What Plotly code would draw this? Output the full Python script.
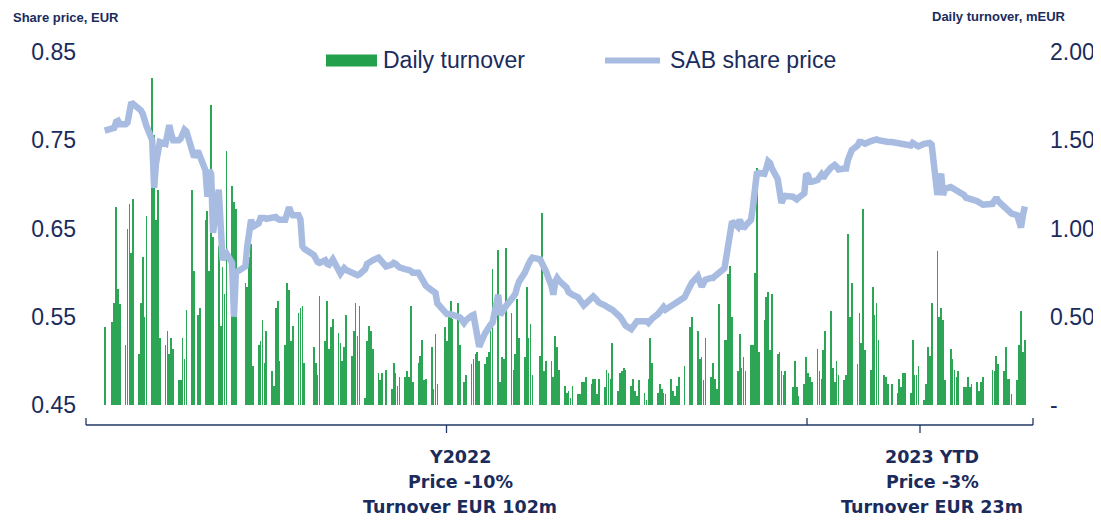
import pandas as pd
import plotly.graph_objects as go

# ---------------- data ----------------
# trading days: Mon..Fri from 2021-12-30 to 2023-04-28, None = no trading
turnover_mEUR = [
    0.44, None,
    0.47, 0.58, 1.12, 0.66, 0.57,
    0.34, 1.00, 1.14, 0.86, 1.17,
    0.29, 0.58, 0.84, 0.50, 1.07,
    1.85, 1.53, 1.05, 1.22, 0.38,
    0.34, 0.42, 0.29, 0.38, 0.32,
    0.14, 0.14, 0.38, 0.26, 0.54,
    1.22, 0.76, None, 0.51, 0.55,
    1.05, 1.10, 0.76, 1.70, 0.95,
    0.90, 0.45, 0.78, 0.63, 1.44,
    1.24, 1.15, 1.11, None, None,
    0.69, 0.67, 0.84, 0.91, 0.22,
    0.34, 0.36, 0.48, 0.24, 0.42,
    0.19, 0.11, 0.55, 0.59, 0.25,
    0.34, 0.69, 0.65, 0.36, 0.45,
    0.52, 0.55, 0.56, 0.24, None,
    None, 0.33, 0.24, 0.17, 0.62,
    0.36, 0.59, 0.32, 0.44, 0.49,
    0.41, 0.35, 0.25, 0.33, 0.51,
    0.28, 0.42, 0.58, 0.39, 0.56,
    0.04, 0.36, 0.45, 0.42, 0.32,
    0.18, 0.14, 0.18, None, 0.20,
    0.09, 0.24, 0.18, 0.11, 0.16,
    0.16, 0.19, 0.16, 0.56, 0.13,
    0.24, 0.28, 0.37, 0.14, 0.15,
    0.33, 0.09, 0.40, 0.12, None,
    0.44, 0.36, 0.51, 0.59, 0.49,
    0.58, 0.34, None, 0.13, 0.17,
    0.23, 0.26, 0.29, 0.30, 0.25,
    0.23, 0.27, 0.30, 0.42, 0.77,
    0.88, 0.13, 0.27, 0.26, 0.89,
    0.52, 0.20, 0.29, 0.60, 0.38,
    0.27, 0.67, 0.38, 0.46, 0.17,
    None, 0.28, 1.09, 0.19, 0.25,
    0.25, 0.16, 0.39, 0.33, 0.20,
    0.11, 0.07, 0.08, 0.04, 0.11,
    0.06, 0.06, 0.13, 0.13, 0.16,
    0.12, 0.15, 0.15, 0.06, 0.15,
    0.10, 0.20, 0.18, 0.15, 0.35,
    0.08, 0.18, 0.19, 0.21, 0.20,
    0.11, 0.15, 0.08, 0.05, 0.14,
    0.07, 0.03, 0.15, 0.38, 0.24,
    0.07, 0.12, 0.09, 0.07, 0.06,
    0.15, 0.08, 0.05, 0.11, 0.16,
    0.22, None, None, 0.44, 0.50,
    0.42, 0.26, 0.27, 0.14, 0.38,
    0.16, 0.24, 0.15, 0.09, 0.57,
    0.37, 0.37, 0.74, 0.79, 0.50,
    0.19, 0.40, 0.21, 0.27, 0.19,
    0.34, 0.34, 0.75, 1.34, 0.30,
    0.48, 0.61, 0.64, 0.31, 0.63,
    0.29, 0.30, 0.19, 0.17, 0.19,
    None, 0.10, 0.25, 0.10, 0.05,
    0.12, 0.27, 0.18, 0.16, 0.13,
    0.32, 0.19, 0.15, 0.31, 0.42,
    0.53, 0.21, 0.13, 0.25, 0.17,
    0.14, 0.17, 0.97, 0.50, 0.69,
    0.23, 0.52, 0.35, 1.11, 0.31,
    0.20, 0.67, 0.51, 0.58, 0.37,
    0.17, 0.16, 0.12, None, 0.12,
    0.07, 0.15, 0.10, 0.18, 0.18,
    0.07, 0.37, 0.17, 0.17, 0.22,
    0.03, 0.12, 0.33, 0.28, 0.58,
    0.87, 0.50, 0.55, 0.48, 0.14,
    0.32, 0.26, 0.20, 0.16, 0.19,
    0.10, 0.10, 0.16, 0.10, 0.12,
    0.13, 0.08, 0.13, 0.16, None,
    None, 0.20, 0.19, 0.28, 0.23,
    0.19, 0.33, 0.15, 0.15, 0.06,
    0.14, 0.34, 0.53, 0.30, 0.37,
]

price_EUR = [
    0.761, None,
    0.762, 0.764, 0.771, 0.772, 0.768,
    0.768, 0.770, 0.785, 0.793, 0.791,
    0.786, 0.784, 0.780, 0.770, 0.766,
    0.750, 0.696, 0.724, 0.735, 0.748,
    0.746, 0.757, 0.767, 0.757, 0.750,
    0.750, 0.752, 0.757, 0.762, 0.760,
    0.736, 0.731, None, 0.738, 0.732,
    0.716, 0.686, 0.716, 0.712, 0.645,
    0.694, 0.650, 0.614, 0.620, 0.622,
    0.611, 0.550, 0.600, None, None,
    0.607, 0.630, 0.645, 0.660, 0.652,
    0.656, 0.662, 0.663, 0.662, 0.661,
    0.662, 0.663, 0.663, 0.661, 0.660,
    0.660, 0.670, 0.674, 0.668, 0.665,
    0.665, 0.660, 0.630, 0.627, None,
    None, 0.620, 0.614, 0.612, 0.611,
    0.614, 0.610, 0.609, 0.612, 0.615,
    0.603, 0.599, 0.602, 0.605, 0.603,
    0.600, 0.598, 0.597, 0.597, 0.598,
    0.604, 0.610, 0.612, 0.613, 0.614,
    0.617, 0.614, 0.610, None, 0.607,
    0.609, 0.611, 0.610, 0.608, 0.606,
    0.604, 0.604, 0.603, 0.602, 0.600,
    0.600, 0.596, 0.592, 0.589, 0.585,
    0.580, 0.579, 0.577, 0.565, None,
    0.554, 0.553, 0.553, 0.552, 0.552,
    0.550, 0.549, None, 0.543, 0.546,
    0.551, 0.552, 0.540, 0.525, 0.516,
    0.531, 0.535, 0.538, 0.541, 0.543,
    0.575, 0.552, 0.556, 0.560, 0.562,
    0.570, 0.573, 0.576, 0.584, 0.590,
    0.600, 0.607, 0.610, 0.614, 0.617,
    None, 0.615, 0.611, 0.607, 0.602,
    0.585, 0.575, 0.590, 0.594, 0.591,
    0.586, 0.583, 0.578, 0.575, 0.575,
    0.572, 0.568, 0.565, 0.563, 0.565,
    0.571, 0.573, 0.571, 0.568, 0.566,
    0.563, 0.561, 0.560, 0.559, 0.558,
    0.553, 0.550, 0.547, 0.543, 0.540,
    0.536, 0.540, 0.543, 0.545, 0.545,
    0.546, 0.545, 0.543, 0.546, 0.548,
    0.553, 0.556, 0.559, 0.561, 0.558,
    0.562, 0.564, 0.565, 0.566, 0.567,
    0.572, None, None, 0.585, 0.589,
    0.596, 0.590, 0.584, 0.588, 0.592,
    0.594, 0.594, 0.596, 0.598, 0.600,
    0.605, 0.618, 0.635, 0.650, 0.658,
    0.652, 0.660, 0.655, 0.650, 0.653,
    0.660, 0.675, 0.695, 0.712, 0.713,
    0.712, 0.718, 0.726, 0.724, 0.718,
    0.706, 0.692, 0.679, 0.684, 0.687,
    None, 0.686, 0.685, 0.683, 0.685,
    0.690, 0.712, 0.710, 0.703, 0.703,
    0.705, 0.709, 0.711, 0.707, 0.711,
    0.719, 0.720, 0.722, 0.720, 0.717,
    0.718, 0.718, 0.728, 0.737, 0.739,
    0.744, 0.748, 0.748, 0.747, 0.746,
    0.749, 0.750, 0.751, 0.751, 0.750,
    0.748, 0.748, 0.748, None, 0.748,
    0.747, 0.747, 0.746, 0.746, 0.745,
    0.744, 0.747, 0.746, 0.745, 0.743,
    0.746, 0.746, 0.747, 0.747, 0.745,
    0.688, 0.705, 0.712, 0.688, 0.695,
    0.697, 0.696, 0.695, 0.693, 0.692,
    0.688, 0.685, 0.684, 0.683, 0.683,
    0.681, 0.679, 0.678, 0.677, None,
    None, 0.678, 0.682, 0.685, 0.681,
    0.674, 0.672, 0.670, 0.668, 0.667,
    0.665, 0.660, 0.651, 0.665, 0.675,
]

price_ticks = [0.45, 0.55, 0.65, 0.75, 0.85]
price_ticktext = ["0.45", "0.55", "0.65", "0.75", "0.85"]
turnover_ticks = [0, 0.5, 1.0, 1.5, 2.0]
turnover_ticktext = ["-", "0.50", "1.00", "1.50", "2.00"]

period_labels = [
    ["Y2022", "Price -10%", "Turnover EUR 102m"],
    ["2023 YTD", "Price -3%", "Turnover EUR 23m"],
]

dates = pd.bdate_range("2021-12-30", "2023-04-28")

# ---------------- styling / layout ----------------
# the page puts the figure 8px in from the top-left corner; all target
# positions below are page pixels and are shifted by OFF.
OFF = 8
W, H = 1101 - OFF, 520 - OFF
L, T = 86 - OFF, 52 - OFF
PW, PH = 947, 353
R, B = W - L - PW, H - T - PH
NAVY = "#1a2b5c"
BRACKET = "#1f3864"
GREEN = "#22a04b"
BARC = "#2ca655"
LINEC = "#a8bce2"
FONT = "Arial, Liberation Sans, sans-serif"


def px(xp):
    return (xp - OFF - L) / PW


def py(yp):
    return (T + PH - (yp - OFF)) / PH


day0 = pd.Timestamp("2022-01-03")
x_start = day0 + pd.Timedelta(days=-13.83)
x_end = day0 + pd.Timedelta(days=484.3)

fig = go.Figure()
fig.add_trace(go.Bar(
    x=dates, y=turnover_mEUR, yaxis="y",
    marker=dict(color=BARC, line=dict(width=0)),
    width=0.38 * 86400000, name="Daily turnover",
))
fig.add_trace(go.Scatter(
    x=dates, y=price_EUR, yaxis="y2", mode="lines", connectgaps=True,
    line=dict(color=LINEC, width=6.5), name="SAB share price",
))

shapes = []
# legend
shapes.append(dict(type="rect", xref="paper", yref="paper",
                   x0=px(326), x1=px(377), y0=py(66.5), y1=py(54.5),
                   fillcolor=GREEN, line=dict(width=0)))
shapes.append(dict(type="line", xref="paper", yref="paper",
                   x0=px(605), x1=px(660), y0=py(60.5), y1=py(60.5),
                   line=dict(color=LINEC, width=6)))
# brackets
bl = dict(color=BRACKET, width=1.3)
shapes.append(dict(type="line", xref="paper", yref="paper",
                   x0=px(86), x1=px(1033), y0=py(425), y1=py(425), line=bl))
for xv in (86, 807, 1033):
    shapes.append(dict(type="line", xref="paper", yref="paper",
                       x0=px(xv), x1=px(xv), y0=py(418), y1=py(425), line=bl))
for xv in (446.5, 920):
    shapes.append(dict(type="line", xref="paper", yref="paper",
                       x0=px(xv), x1=px(xv), y0=py(425), y1=py(433), line=bl))

ann = []
ann.append(dict(text="Daily turnover", x=px(381), y=py(60), xref="paper", yref="paper",
                xanchor="left", yanchor="middle", showarrow=False,
                font=dict(family=FONT, size=23, color=NAVY)))
ann.append(dict(text="SAB share price", x=px(668), y=py(60), xref="paper", yref="paper",
                xanchor="left", yanchor="middle", showarrow=False,
                font=dict(family=FONT, size=23, color=NAVY)))
ann.append(dict(text="<b>Share price, EUR</b>", x=px(11), y=py(17.5), xref="paper", yref="paper",
                xanchor="left", yanchor="middle", showarrow=False,
                font=dict(family=FONT, size=13, color=NAVY)))
ann.append(dict(text="<b>Daily turnover, mEUR</b>", x=px(1068), y=py(16.5), xref="paper", yref="paper",
                xanchor="right", yanchor="middle", showarrow=False,
                font=dict(family=FONT, size=13, color=NAVY)))
for cx, lines in zip((460, 932), period_labels):
    for i, t in enumerate(lines):
        ann.append(dict(text="<b>%s</b>" % t, x=px(cx), y=py(456.7 + 25 * i),
                        xref="paper", yref="paper", xanchor="center", yanchor="middle",
                        showarrow=False,
                        font=dict(family="DejaVu Sans", size=17.5, color=NAVY)))

fig.update_layout(
    template="none",
    width=W, height=H,
    margin=dict(l=L, r=R, t=T, b=B, pad=0),
    paper_bgcolor="white", plot_bgcolor="white",
    showlegend=False,
    bargap=0,
    xaxis=dict(type="date", range=[x_start, x_end], showticklabels=False,
               showgrid=False, zeroline=False, showline=False, ticks="",
               automargin=False),
    yaxis=dict(side="right", range=[0, 2.0], tickvals=turnover_ticks,
               ticktext=turnover_ticktext, showgrid=False, zeroline=False,
               showline=False, ticks="", ticklabelstandoff=16, automargin=False,
               tickfont=dict(family=FONT, size=23, color=NAVY)),
    yaxis2=dict(side="left", overlaying="y", range=[0.45, 0.85],
                tickvals=price_ticks, ticktext=price_ticktext, showgrid=False,
                zeroline=False, showline=False, ticks="", ticklabelstandoff=9,
                automargin=False,
                tickfont=dict(family=FONT, size=23, color=NAVY)),
    shapes=shapes,
    annotations=ann,
)

fig.write_html("out.html")
